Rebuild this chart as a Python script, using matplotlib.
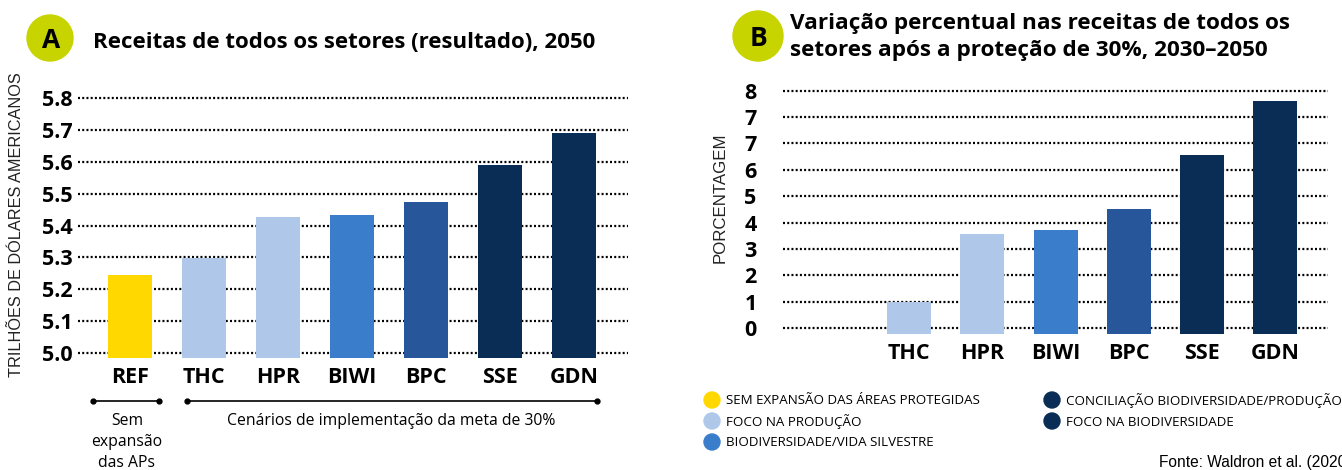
import matplotlib.pyplot as plt
from matplotlib.patches import Circle

W, H = 1342, 470

# data
scenarios = ["REF", "THC", "HPR", "BIWI", "BPC", "SSE", "GDN"]
receitas_2050 = [5.245, 5.298, 5.427, 5.433, 5.474, 5.59, 5.69]
variacao_pct = [1.01, 3.58, 3.74, 4.53, 6.55, 8.6]  # THC..GDN, REF has no bar
bar_colors = ["#FFD800", "#AFC8EA", "#AFC8EA", "#3A7DCB", "#27579A", "#092D55", "#092D55"]

ticks_a = [5.0, 5.1, 5.2, 5.3, 5.4, 5.5, 5.6, 5.7, 5.8]
tick_labels_a = ["5.0", "5.1", "5.2", "5.3", "5.4", "5.5", "5.6", "5.7", "5.8"]
ticks_b = [0, 1, 2, 3, 4, 5, 6, 7, 8, 9]
tick_labels_b = ["0", "1", "2", "3", "4", "5", "6", "7", "7", "8"]

legend_labels = ["SEM EXPANSÃO DAS ÁREAS PROTEGIDAS", "FOCO NA PRODUÇÃO",
                 "BIODIVERSIDADE/VIDA SILVESTRE",
                 "CONCILIAÇÃO BIODIVERSIDADE/PRODUÇÃO", "FOCO NA BIODIVERSIDADE"]
legend_colors = ["#FFD800", "#AFC8EA", "#3A7DCB", "#092D55", "#092D55"]

BADGE = "#C8D400"
OPEN = ["Open Sans", "DejaVu Sans"]
ARIAL = ["Liberation Sans", "DejaVu Sans"]

fig = plt.figure(figsize=(W / 100, H / 100), dpi=100)


def px_axes(left, right, bottom, top):
    return fig.add_axes([left / W, 1 - bottom / H, (right - left) / W, (bottom - top) / H])


def style(ax, ticks, labels, pad_y):
    for s in ax.spines.values():
        s.set_visible(False)
    ax.set_yticks(ticks, labels, fontfamily=OPEN, fontweight="bold", fontsize=15.5)
    ax.tick_params(axis="y", length=0, pad=pad_y)
    ax.tick_params(axis="x", length=0, pad=5)
    ax.grid(axis="y", color="black", linestyle=(0, (0.9, 1.0)), linewidth=1.6)
    ax.set_axisbelow(True)


# Panel A: revenue in 2050
ax_a = px_axes(78, 628, 359.7, 94.5)
x_a = list(range(len(scenarios)))
base_a = 4.986
ax_a.bar(x_a, [v - base_a for v in receitas_2050], bottom=base_a, width=0.6,
         color=bar_colors, zorder=3)
ax_a.set_xlim(-0.70, 6.73)
ax_a.set_ylim(4.98, 5.81)
style(ax_a, ticks_a, tick_labels_a, 4)
ax_a.set_xticks(x_a, scenarios, fontfamily=OPEN, fontweight="bold", fontsize=15.5)

# Panel B: percentage change
ax_b = px_axes(783, 1328, 336.2, 86.7)
x_b = list(range(1, len(scenarios)))
base_b = -0.22
ax_b.bar(x_b, [v - base_b for v in variacao_pct], bottom=base_b, width=0.6,
         color=bar_colors[1:], zorder=3)
ax_b.set_xlim(-0.724, 6.72)
ax_b.set_ylim(-0.3, 9.15)
style(ax_b, ticks_b, tick_labels_b, 19)
ax_b.set_xticks(x_b, scenarios[1:], fontfamily=OPEN, fontweight="bold", fontsize=15.5)

# overlay in pixel coordinates for titles, badges, brackets and legend
ov = fig.add_axes([0, 0, 1, 1], zorder=10)
ov.set_xlim(0, W)
ov.set_ylim(H, 0)
ov.axis("off")
ov.patch.set_alpha(0)

for cx, cy, r, letter in [(50, 38, 23, "A"), (758, 36, 25, "B")]:
    ov.add_patch(Circle((cx, cy), r, color=BADGE))
    ov.text(cx + 1, cy + 3, letter, ha="center", va="center", fontsize=19,
            fontweight="bold", fontfamily=OPEN)

ov.text(93, 42, "Receitas de todos os setores (resultado), 2050", ha="left", va="center",
        fontsize=16, fontweight="bold", fontfamily=OPEN)
ov.text(790, 37, "Variação percentual nas receitas de todos os\nsetores após a proteção de 30%, 2030–2050",
        ha="left", va="center", fontsize=16.2, fontweight="bold", fontfamily=OPEN,
        linespacing=1.35)

ov.text(17, 225, "TRILHÕES DE DÓLARES AMERICANOS", rotation=90, ha="center", va="center",
        fontsize=11.7, fontfamily=ARIAL, color="#222222")
ov.text(720, 198, "PORCENTAGEM", rotation=90, ha="center", va="center",
        fontsize=12.2, fontfamily=ARIAL, color="#222222")

# brackets under panel A
for x0, x1 in [(93, 159), (187, 597)]:
    ov.plot([x0, x1], [401, 401], color="black", lw=1.2, marker="o", markersize=3.5)
ov.text(127, 442, "Sem\nexpansão\ndas APs", ha="center", va="center", fontsize=11.3,
        fontfamily=OPEN, linespacing=1.45)
ov.text(391, 421, "Cenários de implementação da meta de 30%", ha="center", va="center",
        fontsize=11.3, fontfamily=OPEN)

# legend
legend_pos = [(712, 400), (712, 421), (712, 442), (1052, 400), (1052, 421)]
for (lx, ly), lab, col in zip(legend_pos, legend_labels, legend_colors):
    ov.add_patch(Circle((lx, ly), 8, color=col))
    ov.text(lx + 14, ly + 1, lab, ha="left", va="center", fontsize=9.6, fontfamily=OPEN)

ov.text(1159, 463, "Fonte: Waldron et al. (2020)", ha="left", va="center", fontsize=11.2,
        fontfamily=ARIAL)

fig.savefig("out.png", dpi=100)
